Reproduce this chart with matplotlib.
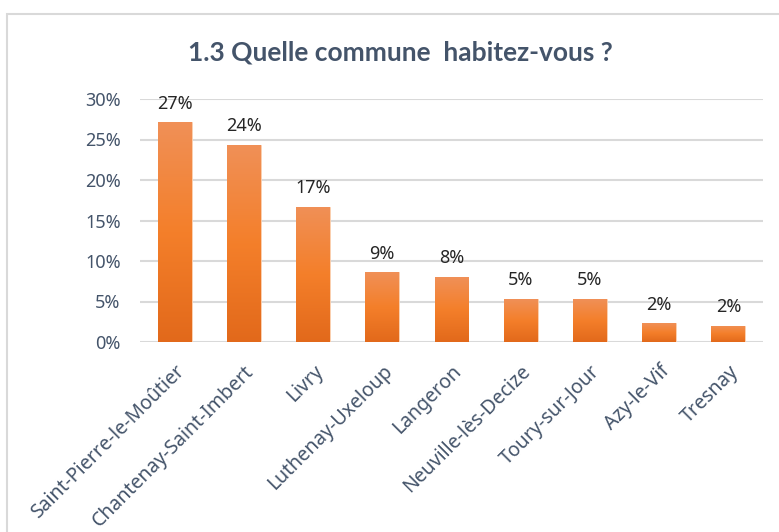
import numpy as np
import matplotlib.pyplot as plt
import matplotlib.patches as patches
from matplotlib.colors import LinearSegmentedColormap

communes = ["Saint-Pierre-le-Moûtier", "Chantenay-Saint-Imbert", "Livry",
            "Luthenay-Uxeloup", "Langeron", "Neuville-lès-Decize",
            "Toury-sur-Jour", "Azy-le-Vif", "Tresnay"]
shares = [27.1, 24.3, 16.7, 8.6, 8.0, 5.3, 5.3, 2.3, 2.0]
labels = ["27%", "24%", "17%", "9%", "8%", "5%", "5%", "2%", "2%"]
yticks = [0, 5, 10, 15, 20, 25, 30]

title = "1.3 Quelle commune  habitez-vous ?"
TXT = "#44546A"
FONT = ["Noto Sans", "DejaVu Sans"]

fig = plt.figure(figsize=(7.79, 5.32), dpi=100)
W, H = 779, 532

# outer chart frame (light border, cut by the right and bottom edges)
fig.patches.append(patches.Rectangle((7 / W, -0.05), 1.0, 1 - 14 / H + 0.05,
                                     transform=fig.transFigure, fill=False,
                                     edgecolor="#D9D9D9", lw=1.5))

ax = fig.add_axes([140 / W, 1 - 342 / H, 623 / W, 243 / H])
x = np.arange(len(communes))
bars = ax.bar(x, shares, width=0.49, color="#F07E2C", edgecolor="#FBD3B5",
              lw=0.6, zorder=2)

cmap = LinearSegmentedColormap.from_list("grad", ["#E2691B", "#F47F2A", "#F09057"])
grad = np.linspace(0, 1, 256).reshape(-1, 1)
for b in bars:
    x0, w, h = b.get_x(), b.get_width(), b.get_height()
    im = ax.imshow(grad, extent=[x0, x0 + w, 0, h], origin="lower",
                   cmap=cmap, aspect="auto", zorder=3)
    im.set_clip_path(b)

for xi, v, lab in zip(x, shares, labels):
    ax.text(xi, v + 1.2, lab, ha="center", va="bottom", fontsize=13,
            color="#262626", family=FONT)

ax.set_xlim(-0.5, len(communes) - 0.5)
ax.set_ylim(0, 30)
ax.set_yticks(yticks)
ax.set_yticklabels([f"{t}%" for t in yticks], fontsize=13, color=TXT, family=FONT)
ax.set_xticks(x)
ax.set_xticklabels(communes, rotation=45, ha="right", rotation_mode="anchor",
                   fontsize=14, color=TXT, family=FONT)
ax.tick_params(axis="both", length=0)
ax.tick_params(axis="y", pad=14)
ax.tick_params(axis="x", pad=14)
ax.grid(axis="y", color="#D9D9D9", lw=1.5, zorder=0)
ax.set_axisbelow(True)
for s in ax.spines.values():
    s.set_visible(False)

fig.text(400 / W, 1 - 52 / H, title, ha="center", va="center", fontsize=19,
         fontweight="bold", color=TXT, family=["Lato", "DejaVu Sans"])

fig.savefig("out.png", dpi=100)
